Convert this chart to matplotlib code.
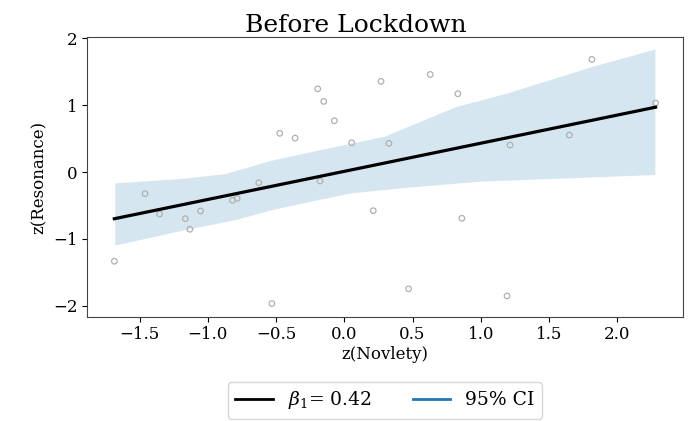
import numpy as np
import matplotlib
matplotlib.use('Agg')
import matplotlib.pyplot as plt
from matplotlib.lines import Line2D

# scatter data, z-scores
novelty = [-1.686, -1.461, -1.354, -1.166, -1.132, -1.054, -0.820, -0.785, -0.627,
           -0.531, -0.473, -0.361, -0.195, -0.151, -0.178, -0.073, 0.054, 0.212,
           0.269, 0.327, 0.630, 0.471, 0.832, 0.862, 1.193, 1.215, 1.650, 1.815, 2.282]
resonance = [-1.333, -0.324, -0.627, -0.697, -0.855, -0.582, -0.422, -0.393, -0.160,
             -1.966, 0.578, 0.507, 1.243, 1.055, -0.134, 0.766, 0.437, -0.578,
             1.354, 0.428, 1.458, -1.746, 1.169, -0.691, -1.851, 0.403, 0.552, 1.682, 1.030]

# fitted line
beta0 = 0.01
beta1 = 0.42

# confidence band edges
ci_up_x = [-1.68, -1.17, -0.87, -0.53, -0.19, 0.30, 0.82, 1.19, 1.82, 2.28]
ci_up_y = [-0.17, -0.10, -0.03, 0.17, 0.32, 0.53, 0.97, 1.17, 1.57, 1.83]
ci_lo_x = [-1.68, -1.17, -0.80, -0.53, -0.19, 0.05, 0.44, 0.99, 2.28]
ci_lo_y = [-1.10, -0.87, -0.72, -0.57, -0.42, -0.32, -0.24, -0.145, -0.045]

plt.rcParams['font.family'] = 'DejaVu Serif'
plt.rcParams['mathtext.fontset'] = 'dejavuserif'

fig = plt.figure(figsize=(6.93, 4.21), dpi=100)
ax = fig.add_axes([0.126, 0.248, 0.859, 0.663])

xs = np.array([min(novelty), max(novelty)])
ax.plot(xs, beta0 + beta1 * xs, color='black', lw=2.3, zorder=3)

band_x = np.concatenate([ci_up_x, ci_lo_x[::-1]])
band_y = np.concatenate([ci_up_y, ci_lo_y[::-1]])
ax.fill(band_x, band_y, color='#d6e6f0', lw=0, zorder=1)

ax.scatter(novelty, resonance, s=16, facecolors='none', edgecolors='#b0b0b0',
           linewidths=0.9, zorder=2)

ax.set_xlim(-1.884, 2.48)
ax.set_ylim(-2.16, 2.01)
ax.set_xticks([-1.5, -1.0, -0.5, 0.0, 0.5, 1.0, 1.5, 2.0])
ax.set_yticks([-2, -1, 0, 1, 2])
ax.tick_params(labelsize=12)
for s in ax.spines.values():
    s.set_color('#444444')

ax.set_title('Before Lockdown', fontsize=18, pad=3, x=0.451)
ax.set_xlabel('z(Novlety)', fontsize=12, labelpad=2)
ax.set_ylabel('z(Resonance)', fontsize=12, labelpad=4)

handles = [Line2D([], [], color='black', lw=2),
           Line2D([], [], color='#1f77b4', lw=2)]
ax.legend(handles, [r'$\beta_1$= 0.42', '95% CI'], loc='upper center',
          bbox_to_anchor=(0.5, -0.2), ncol=2, fontsize=13.5,
          columnspacing=2.2, handlelength=2.0, frameon=True)

fig.savefig('out.png', dpi=100)
